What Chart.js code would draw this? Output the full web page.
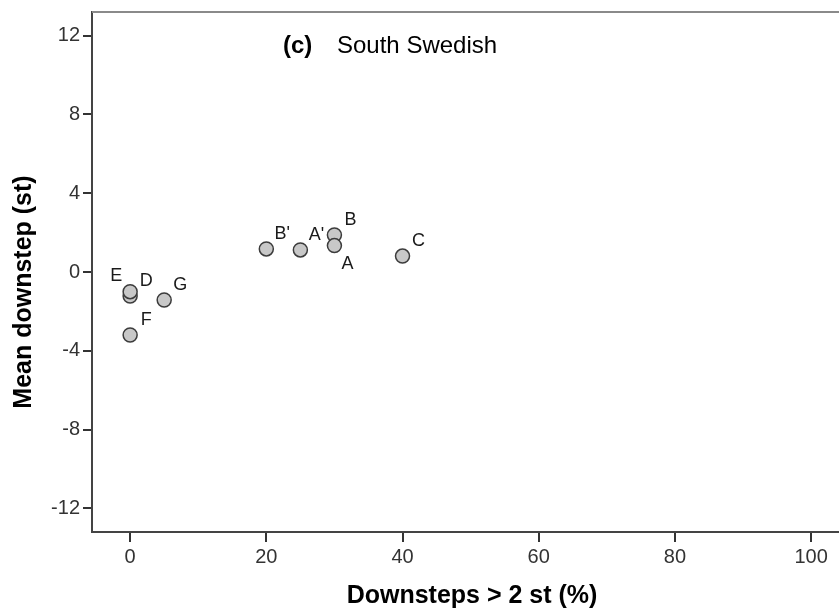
<!DOCTYPE html>
<html>
<head>
<meta charset="utf-8">
<script src="https://cdn.jsdelivr.net/npm/chart.js@4.4.1/dist/chart.umd.min.js"></script>
<style>
    html, body { margin: 0; padding: 0; background: #ffffff; }
    #wrap { width: 839px; height: 614px; }
</style>
</head>
<body>
<div id="wrap"><canvas id="scatterChart" width="839" height="614"></canvas></div>
<script>
// Dati
const pointNames = ['B\'', 'A\'', 'B', 'A', 'C', 'G', 'F', 'D', 'E'];
const downstepsPct = [20, 25, 30, 30, 40, 5, 0, 0, 0];
const meanDownstep = [1.17, 1.12, 1.88, 1.34, 0.81, -1.42, -3.2, -1.22, -1.0];
// dove mettere l'etichetta rispetto al punto
const labelSide = ['ne', 'ne', 'ne', 'se', 'ne', 'ne', 'ne', 'ne', 'nw'];

const xTicks = [0, 20, 40, 60, 80, 100];
const yTicks = [-12, -8, -4, 0, 4, 8, 12];

const xTitle = 'Downsteps > 2 st (%)';
const yTitle = 'Mean downstep (st)';

const FONT = "'Liberation Sans', Arial, sans-serif";

// Etichette dei punti, titoli degli assi e titolo interno al grafico
const annotationsPlugin = {
    id: 'annotations',
    afterDatasetsDraw(chart) {
        const ctx = chart.ctx;
        const meta = chart.getDatasetMeta(0);
        ctx.save();
        ctx.font = '18px ' + FONT;
        ctx.fillStyle = '#1a1a1a';
        ctx.textAlign = 'center';
        ctx.textBaseline = 'middle';
        meta.data.forEach((pt, i) => {
            let dx = 16, dy = -15;
            if (labelSide[i] === 'se') { dx = 13; dy = 18; }
            if (labelSide[i] === 'nw') { dx = -14; dy = -16; }
            ctx.fillText(pointNames[i], pt.x + dx, pt.y + dy);
        });

        // bordo superiore
        const area = chart.chartArea;
        ctx.strokeStyle = '#8a8a8a';
        ctx.lineWidth = 2;
        ctx.beginPath();
        ctx.moveTo(area.left, area.top);
        ctx.lineTo(area.right, area.top);
        ctx.stroke();

        // titoli degli assi
        ctx.fillStyle = '#000000';
        ctx.font = 'bold 25px ' + FONT;
        ctx.fillText(xTitle, 472, 596);
        ctx.save();
        ctx.translate(24, 292);
        ctx.rotate(-Math.PI / 2);
        ctx.fillText(yTitle, 0, 0);
        ctx.restore();

        // titolo del pannello
        ctx.textAlign = 'left';
        ctx.font = 'bold 24px ' + FONT;
        ctx.fillText('(c)', 283, 46);
        ctx.font = '24px ' + FONT;
        ctx.fillText('South Swedish', 337, 46);
        ctx.restore();
    }
};

const ctx = document.getElementById('scatterChart').getContext('2d');

new Chart(ctx, {
    type: 'scatter',
    data: {
        datasets: [{
            label: 'South Swedish',
            data: downstepsPct.map((x, i) => ({ x: x, y: meanDownstep[i] })),
            backgroundColor: '#c8c8c8',
            borderColor: '#3c3c3c',
            borderWidth: 1.5,
            pointRadius: 7,
            pointHoverRadius: 7
        }]
    },
    options: {
        responsive: false,
        animation: false,
        layout: {
            autoPadding: false,
            padding: { top: 12, right: 0, left: 0, bottom: 0 }
        },
        scales: {
            x: {
                type: 'linear',
                min: -5.6,
                max: 104.1,
                afterBuildTicks: (scale) => { scale.ticks = xTicks.map(v => ({ value: v })); },
                afterFit: (scale) => {
                    scale.height = 82;
                    scale.paddingLeft = 0;
                    scale.paddingRight = 0;
                },
                grid: {
                    drawOnChartArea: false,
                    drawTicks: true,
                    tickLength: 10,
                    tickColor: '#333333',
                    lineWidth: 2
                },
                border: { display: true, color: '#444444', width: 2 },
                ticks: {
                    color: '#333333',
                    padding: 3,
                    maxRotation: 0,
                    font: { family: FONT, size: 20 }
                }
            },
            y: {
                type: 'linear',
                min: -13.2,
                max: 13.2,
                afterBuildTicks: (scale) => { scale.ticks = yTicks.map(v => ({ value: v })); },
                afterFit: (scale) => {
                    scale.width = 92;
                    scale.paddingTop = 0;
                    scale.paddingBottom = 0;
                },
                grid: {
                    drawOnChartArea: false,
                    drawTicks: true,
                    tickLength: 9,
                    tickColor: '#333333',
                    lineWidth: 2
                },
                border: { display: true, color: '#444444', width: 2 },
                ticks: {
                    color: '#333333',
                    padding: 3,
                    font: { family: FONT, size: 20 }
                }
            }
        },
        plugins: {
            legend: { display: false },
            tooltip: { enabled: false }
        }
    },
    plugins: [annotationsPlugin]
});
</script>
</body>
</html>
